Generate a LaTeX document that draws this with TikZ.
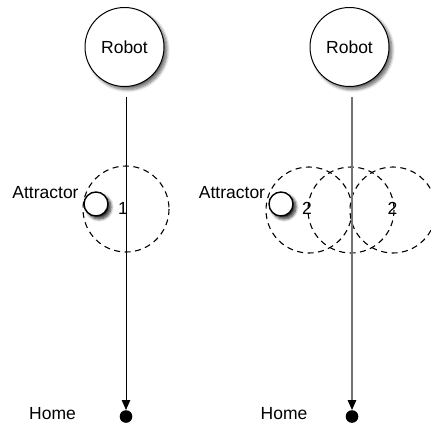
\documentclass[tikz,border=0pt]{standalone}
\usepackage{fontspec}
\setmainfont{Liberation Sans}
\usetikzlibrary{arrows.meta,shadows.blur}
\begin{document}
\begin{tikzpicture}[x=1pt,y=-1pt,
  robotnode/.style={circle,draw=black,line width=1pt,fill=white,minimum size=79pt,inner sep=0pt,
    blur shadow={shadow xshift=3pt,shadow yshift=-3pt,shadow blur steps=8,shadow blur radius=3pt,shadow opacity=60}},
  attnode/.style={circle,draw=black,line width=1.4pt,fill=white,minimum size=24pt,inner sep=0pt,
    blur shadow={shadow xshift=3pt,shadow yshift=-3pt,shadow blur steps=8,shadow blur radius=3pt,shadow opacity=85}},
  homedot/.style={circle,fill=black,minimum size=12.6pt,inner sep=0pt},
  zone/.style={line width=1.1pt,dash pattern=on 6pt off 4.5pt},
  lbl/.style={font=\fontsize{17.5}{20}\selectfont,inner sep=0pt},
  path1/.style={line width=1pt,-{Triangle[length=10pt,width=8.5pt]}},
  path2/.style={line width=1.4pt,draw=black!55,-{Triangle[length=10pt,width=8.5pt,fill=black,color=black]}}]
\useasboundingbox (0,0) rectangle (431,426);
% left panel
\draw[zone] (126,209) circle[radius=43];
\node[attnode] (a1) at (96,204) {};
\node[lbl] (al1) at (45.5,193) {Attractor};
\node[lbl] (n1) at (123,208) {1};
\node[robotnode] (r1) at (124.5,47) {\fontsize{17.5}{20}\selectfont Robot};
\node[homedot] (h1) at (126,416.5) {};
\node[lbl] (hl1) at (52.5,414) {Home};
\coordinate (s1) at (126,97);
\draw[path1] (s1) -- (h1.north);
% right panel
\draw[zone] (309,210) circle[radius=43];
\draw[zone] (351,210) circle[radius=43];
\draw[zone] (393,210) circle[radius=43];
\node[attnode] (a2) at (281,204) {};
\node[lbl] (al2) at (232,193) {Attractor};
\node[lbl] (n2) at (307,208) {2};
\node[lbl] (n3) at (392.5,208) {2};
\node[robotnode] (r2) at (349.5,47) {\fontsize{17.5}{20}\selectfont Robot};
\node[homedot] (h2) at (352,416.5) {};
\node[lbl] (hl2) at (284,414) {Home};
\coordinate (s2) at (352,97);
\draw[path2] (s2) -- (h2.north);
\end{tikzpicture}
\end{document}
